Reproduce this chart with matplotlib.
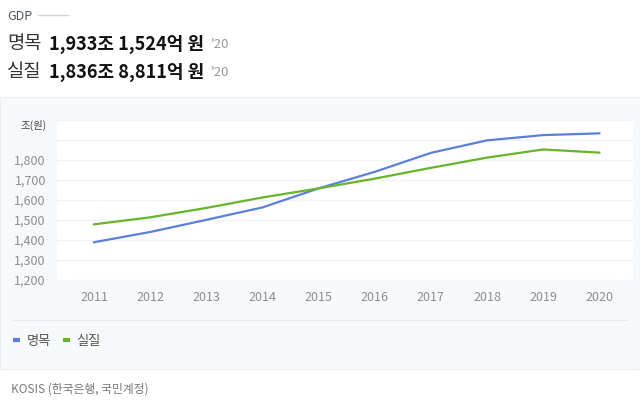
import matplotlib.pyplot as plt
from matplotlib.patches import Rectangle

plt.rcParams['font.family'] = ['Noto Sans CJK KR', 'DejaVu Sans']

years = [2011, 2012, 2013, 2014, 2015, 2016, 2017, 2018, 2019, 2020]
nominal = [1388.9, 1440.1, 1500.8, 1562.9, 1658.0, 1740.8, 1835.7, 1898.2, 1924.5, 1933.2]
real = [1478.3, 1513.4, 1560.4, 1612.7, 1658.0, 1706.9, 1760.8, 1812.0, 1852.7, 1836.9]
yticks = [1200, 1300, 1400, 1500, 1600, 1700, 1800, 1900, 2000]
ytick_labels = ['1,200', '1,300', '1,400', '1,500', '1,600', '1,700', '1,800', '', '']

W, H = 640, 405
fig = plt.figure(figsize=(W / 100, H / 100), dpi=100)
fig.patch.set_facecolor('white')

def fx(px):
    return px / W

def fy(py):
    return 1 - py / H

# gray panel behind the chart and legend
fig.patches.append(Rectangle((fx(0), fy(369)), fx(640), 272 / H, transform=fig.transFigure,
                             facecolor='#f8f9fb', edgecolor='#eceef1', lw=0.8, zorder=-10))
fig.add_artist(plt.Line2D([fx(12), fx(628)], [fy(320), fy(320)], color='#e8eaee', lw=0.8))

# header
fig.text(fx(7), fy(17), 'GDP', fontsize=9, color='#4f5560', va='center')
fig.add_artist(plt.Line2D([fx(38), fx(68)], [fy(15), fy(15)], color='#d0d2d8', lw=1))
for row, (name, val) in enumerate([('명목', '1,933조 1,524억 원'), ('실질', '1,836조 8,811억 원')]):
    yy = fy(44 + row * 28)
    fig.text(fx(7), yy, name, fontsize=13.5, color='#333333', va='center')
    fig.text(fx(49), yy, val, fontsize=13, color='#111111', fontweight='bold', va='center')
    fig.text(fx(211), yy, "'20", fontsize=9.5, color='#999999', va='center')

# chart
ax = fig.add_axes([fx(57), fy(280), (633 - 57) / W, 160 / H])
ax.set_facecolor('white')
ax.plot(years, nominal, color='#5b7fdc', lw=1.6, label='명목')
ax.plot(years, real, color='#66b52a', lw=1.6, label='실질')
ax.set_xlim(2011 - 0.66, 2020 + 0.6)
ax.set_ylim(1200, 2000)
ax.set_yticks(yticks)
ax.set_yticklabels(ytick_labels)
ax.set_xticks(years)
ax.grid(axis='y', color='#f2f3f6', lw=1)
ax.set_axisbelow(True)
for s in ax.spines.values():
    s.set_visible(False)
ax.tick_params(length=0, colors='#8a8d93', labelsize=9)
ax.tick_params(axis='y', pad=8)
ax.tick_params(axis='x', pad=8)
fig.text(fx(47), fy(125), '조(원)', fontsize=7.5, color='#444444', ha='right', va='center')

# legend
handles, labels = ax.get_legend_handles_labels()
leg = fig.legend(handles, labels, loc='center left', bbox_to_anchor=(fx(1), fy(341)), ncol=2,
                 frameon=False, fontsize=9.5, handlelength=0.55, handletextpad=0.5,
                 columnspacing=0.9, labelcolor='#555555')
for line in leg.get_lines():
    line.set_linewidth(3)
    line.set_solid_capstyle('butt')

fig.text(fx(11), fy(389), 'KOSIS (한국은행, 국민계정)', fontsize=8.5, color='#777777', va='center')

fig.savefig('out.png', dpi=100, facecolor='white')
